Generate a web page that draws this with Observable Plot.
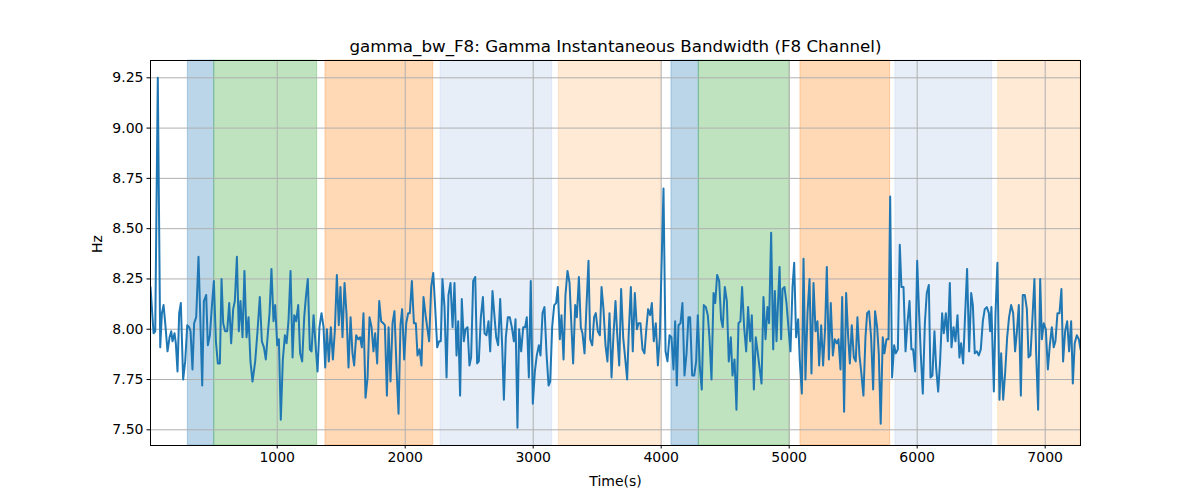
<!DOCTYPE html>
<html>
<head>
<meta charset="utf-8">
<script src="https://cdn.jsdelivr.net/npm/d3@7"></script>
<script src="https://cdn.jsdelivr.net/npm/@observablehq/plot@0.6"></script>
<style>
  body { margin: 0; background: #fff; }
  #chart { width: 1200px; height: 500px; }
  svg { font-family: "DejaVu Sans", sans-serif; }
</style>
</head>
<body>
<div id="chart"></div>
<script>
const titleText = "gamma_bw_F8: Gamma Instantaneous Bandwidth (F8 Channel)";
const xLabel = "Time(s)";
const yLabel = "Hz";

const times = [
  10,34,47,67,86,99,112,125,143,159,172,182,198,208,221,234,247,265,281,297,
  312,323,338,351,367,385,398,414,427,445,458,474,489,505,521,536,552,565,578,593,
  609,625,640,656,669,685,700,713,729,744,760,776,791,807,828,846,864,880,896,911,
  927,940,955,971,984,1000,1013,1028,1044,1060,1073,1088,1104,1120,1133,1148,1164,1179,1195,1211,
  1224,1239,1255,1268,1284,1299,1315,1330,1346,1362,1375,1388,1403,1419,1435,1450,1466,1481,1494,1510,
  1526,1541,1557,1573,1588,1601,1617,1633,1648,1661,1674,1690,1706,1721,1737,1752,1765,1781,1797,1812,
  1828,1841,1857,1870,1885,1901,1916,1932,1948,1963,1976,1992,2008,2023,2036,2052,2068,2083,2096,2112,
  2127,2143,2159,2174,2187,2203,2219,2234,2250,2265,2278,2291,2307,2323,2338,2354,2370,2385,2401,2414,
  2429,2442,2458,2471,2487,2502,2515,2531,2547,2562,2575,2591,2607,2620,2635,2651,2664,2682,2698,2711,
  2726,2742,2758,2771,2786,2802,2817,2833,2849,2862,2877,2890,2906,2922,2937,2950,2966,2981,2997,3013,
  3028,3044,3057,3073,3088,3104,3120,3133,3148,3164,3179,3192,3208,3221,3237,3252,3268,3284,3297,3312,
  3328,3341,3357,3372,3385,3401,3416,3432,3445,3461,3476,3489,3505,3521,3534,3549,3565,3580,3596,3612,
  3627,3643,3656,3672,3687,3703,3718,3734,3747,3763,3778,3794,3810,3823,3838,3854,3869,3885,3898,3914,
  3927,3942,3958,3974,3989,4018,4034,4049,4065,4080,4096,4109,4122,4135,4151,4166,4182,4198,4213,4226,
  4242,4258,4273,4286,4302,4317,4333,4349,4364,4377,4393,4409,4422,4437,4453,4468,4481,4497,4513,4528,
  4544,4557,4573,4588,4604,4619,4632,4648,4664,4679,4695,4708,4724,4739,4755,4768,4784,4799,4815,4830,
  4843,4859,4875,4888,4901,4914,4925,4937,4948,4963,4979,4994,5010,5026,5039,5054,5070,5083,5099,5112,
  5127,5143,5159,5174,5190,5206,5221,5234,5250,5265,5281,5294,5310,5325,5341,5356,5372,5385,5401,5414,
  5429,5445,5461,5474,5489,5505,5520,5533,5549,5564,5580,5596,5609,5624,5640,5656,5671,5687,5700,5715,
  5731,5744,5760,5776,5789,5804,5820,5833,5849,5864,5877,5893,5909,5924,5940,5955,5968,5984,6000,6015,
  6028,6044,6060,6075,6091,6104,6119,6135,6148,6164,6179,6195,6208,6224,6239,6255,6268,6284,6299,6315,
  6330,6343,6359,6375,6390,6406,6422,6435,6450,6466,6481,6497,6513,6528,6544,6560,6570,6580,6599,6612,
  6627,6643,6656,6672,6687,6703,6718,6734,6750,6765,6778,6794,6810,6825,6841,6857,6870,6885,6901,6916,
  6929,6945,6961,6974,6989,7005,7021,7036,7052,7067,7080,7096,7112,7127,7140,7156,7172,7187,7203,7216,
  7231,7247,7263,7276
];

const bandwidthHz = [
  8.21,7.98,7.99,9.25,7.91,8.08,8.12,8.03,7.89,7.96,7.99,7.94,7.98,7.93,7.79,8.08,8.13,7.75,7.84,8.02,
  8.01,7.99,7.80,8.03,8.06,8.36,8.08,7.72,8.14,8.17,7.92,7.97,8.11,8.24,7.94,7.83,7.83,8.25,8.03,7.99,
  7.99,8.13,7.93,8.10,8.14,8.36,7.99,8.14,7.96,8.29,7.96,8.06,7.84,7.74,7.84,7.99,8.16,7.94,7.91,7.85,
  7.98,8.08,8.30,8.04,8.12,7.92,7.95,7.55,7.85,7.97,7.93,8.04,8.29,7.86,8.07,8.04,8.12,7.88,7.84,8.06,
  8.16,8.25,7.90,7.89,8.07,7.93,7.79,8.01,8.08,8.01,7.81,8.00,7.84,8.01,7.85,7.99,8.27,8.02,8.21,7.96,
  8.23,8.08,7.81,8.06,7.88,7.82,7.97,7.95,7.96,7.91,8.08,7.66,7.76,8.06,8.01,7.89,7.98,7.83,8.14,8.04,
  8.03,8.02,7.67,8.01,7.74,8.03,8.09,7.81,7.58,8.02,8.10,7.85,8.03,8.08,8.08,8.24,8.03,8.03,7.87,7.90,
  7.82,8.16,8.07,8.00,7.94,8.21,8.28,8.11,7.91,7.94,7.94,8.25,8.11,7.76,8.17,8.23,8.01,8.23,7.87,8.04,
  7.67,8.15,7.94,8.00,8.01,7.82,7.86,8.24,8.26,7.83,7.84,8.06,8.16,7.98,7.97,8.04,7.89,8.19,8.06,7.96,
  7.92,8.15,7.91,7.65,7.96,8.06,8.06,8.01,7.94,8.05,7.51,8.00,7.89,8.01,8.01,8.06,7.76,8.24,7.63,7.79,
  7.87,7.92,7.87,8.08,8.11,7.88,7.72,7.74,8.01,8.12,8.13,8.21,7.95,8.07,7.85,8.17,8.29,8.23,8.04,7.83,
  8.12,8.06,8.26,8.01,7.98,7.88,8.11,8.34,7.95,7.92,8.06,8.08,7.99,7.97,8.21,8.10,7.92,7.84,8.08,7.76,
  7.97,8.14,7.98,7.82,8.20,7.96,7.86,7.75,7.99,8.21,7.89,8.18,8.00,8.03,8.03,7.90,7.88,8.01,8.10,8.07,
  8.13,7.94,8.03,7.82,7.96,8.70,7.89,7.84,7.97,7.96,7.80,8.04,7.72,8.02,8.03,8.13,7.77,7.88,8.06,8.06,
  7.77,7.77,7.84,8.07,7.81,7.70,8.12,8.11,8.07,7.96,7.75,8.18,8.13,8.27,8.24,8.05,8.01,8.21,8.14,7.84,
  7.96,7.77,7.85,7.60,8.03,8.04,8.21,8.01,7.89,8.11,7.94,8.07,7.70,7.96,7.88,7.81,7.73,8.16,7.95,8.11,
  8.03,8.48,7.90,8.19,7.94,8.15,8.31,7.95,8.20,8.21,8.13,8.01,7.89,8.21,8.33,7.96,8.05,7.84,7.68,8.35,
  7.75,8.08,8.25,7.78,8.23,7.99,8.04,7.82,8.02,7.82,8.01,8.31,7.85,8.13,7.87,7.95,7.93,7.95,7.80,8.16,
  7.59,8.18,7.96,7.83,8.02,7.86,7.84,8.06,7.87,7.78,7.67,7.96,8.08,8.09,7.96,7.70,8.09,8.01,7.88,7.53,
  7.96,7.88,7.95,7.95,8.66,7.76,7.92,7.88,7.90,8.42,8.21,8.21,7.89,8.03,8.14,7.90,7.90,7.79,8.34,8.08,
  7.88,7.68,8.03,8.18,8.22,7.76,7.77,7.99,7.81,7.69,7.84,8.08,7.98,8.08,7.94,8.23,7.91,8.01,7.94,8.07,
  7.86,7.93,7.83,8.08,8.30,7.89,8.18,8.12,7.88,7.89,7.87,7.90,8.04,8.10,8.11,8.08,7.99,8.11,7.69,8.08,
  8.33,7.65,7.88,7.65,7.78,7.96,8.06,8.12,8.08,7.89,7.98,8.12,7.67,8.17,8.17,8.10,7.86,7.87,8.06,8.25,
  7.89,7.60,8.25,7.95,8.03,8.00,7.80,7.92,8.01,7.91,7.94,8.08,8.08,8.20,7.84,7.99,8.04,7.89,8.04,7.73,
  7.93,7.97,7.95,7.90
];

const bandStarts = [302, 508, 1377, 2276, 3200, 4080, 4294, 5088, 5830, 6633];
const bandEnds   = [508, 1312, 2219, 3148, 3997, 4294, 5005, 5789, 6586, 7276];
const bandColors = ["#1f77b4", "#2ca02c", "#ff7f0e", "#aec7e8", "#ffbb78",
                    "#1f77b4", "#2ca02c", "#ff7f0e", "#aec7e8", "#ffbb78"];

const xTicks = [1000, 2000, 3000, 4000, 5000, 6000, 7000];
const yTicks = [7.50, 7.75, 8.00, 8.25, 8.50, 8.75, 9.00, 9.25];
const xDomain = [10, 7276];
const yDomain = [7.422, 9.336];

const series = times.map((t, i) => ({t, v: bandwidthHz[i]}));
const bands = bandStarts.map((s, i) => ({x1: s, x2: bandEnds[i], color: bandColors[i]}));

const gridStyle = {stroke: "#b0b0b0", strokeOpacity: 1, strokeWidth: 1};

const chart = Plot.plot({
  width: 1200,
  height: 500,
  marginLeft: 150,
  marginRight: 120,
  marginTop: 60,
  marginBottom: 55,
  style: {fontFamily: "DejaVu Sans, sans-serif", fontSize: "14px", background: "#fff"},
  x: {domain: xDomain, axis: null},
  y: {domain: yDomain, axis: null},
  color: {type: "identity"},
  marks: [
    Plot.rect(bands, {x1: "x1", x2: "x2", fill: "color", fillOpacity: 0.3, stroke: "color", strokeOpacity: 0.3, strokeWidth: 1}),
    Plot.gridX(xTicks, gridStyle),
    Plot.gridY(yTicks, gridStyle),
    Plot.line(series, {x: "t", y: "v", stroke: "#1f77b4", strokeWidth: 2, clip: true}),
    Plot.frame({stroke: "#000", strokeWidth: 1}),
    Plot.axisX(xTicks, {tickSize: 3.5, tickPadding: 3.5, label: null, fontSize: 14, stroke: "#000", tickFormat: d3.format("d")}),
    Plot.axisY(yTicks, {tickSize: 3.5, tickPadding: 3.5, label: null, fontSize: 14, tickFormat: d3.format(".2f"), stroke: "#000"}),
    Plot.text([titleText], {frameAnchor: "top", lineAnchor: "middle", dy: -14, fontSize: 16.7, fill: "#000"}),
    Plot.text([xLabel], {frameAnchor: "bottom", lineAnchor: "middle", dy: 36, fontSize: 14, fill: "#000"}),
    Plot.text([yLabel], {frameAnchor: "left", lineAnchor: "middle", dx: -53, rotate: -90, fontSize: 14, fill: "#000"})
  ]
});

document.getElementById("chart").appendChild(chart);
</script>
</body>
</html>
